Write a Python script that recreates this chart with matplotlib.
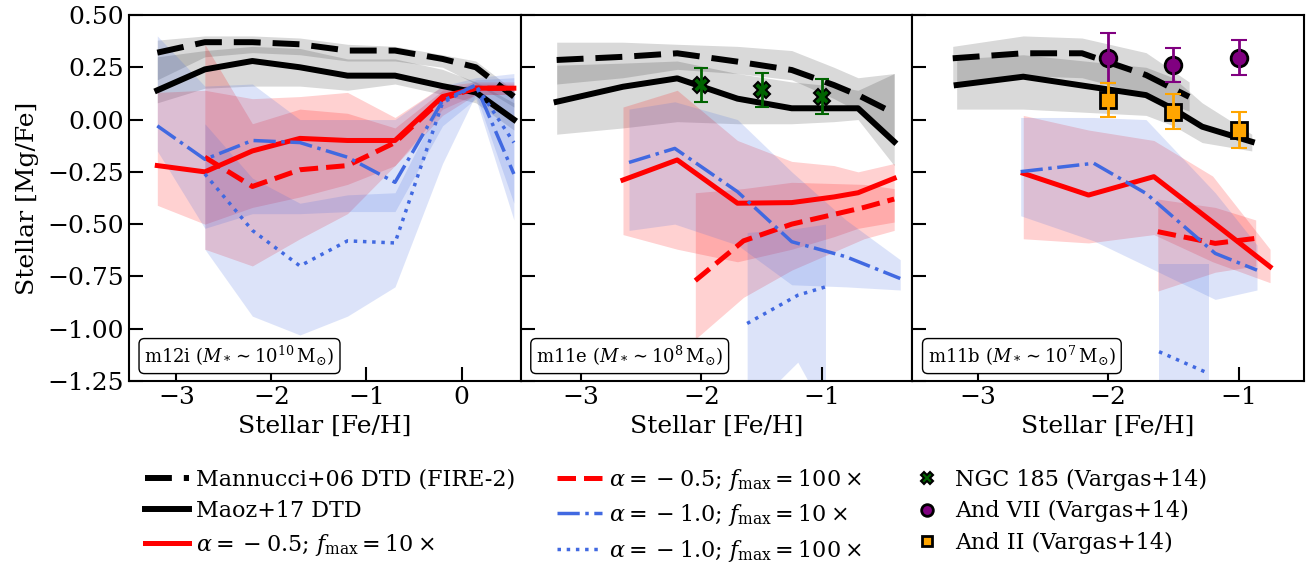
import matplotlib
matplotlib.use('Agg')
import matplotlib.pyplot as plt
import numpy as np

plt.rcParams['font.family'] = 'DejaVu Serif'
plt.rcParams['mathtext.fontset'] = 'dejavuserif'

# ---- m12i ----
x_m12i = [-3.2, -2.7, -2.2, -1.7, -1.2, -0.7, -0.2, 0.15, 0.55]
m12i_man = [0.32, 0.37, 0.37, 0.36, 0.33, 0.33, 0.29, 0.25, 0.11]
m12i_man_hi = [0.38, 0.40, 0.40, 0.39, 0.36, 0.35, 0.31, 0.28, 0.14]
m12i_man_lo = [0.19, 0.30, 0.32, 0.31, 0.28, 0.28, 0.25, 0.17, 0.06]
m12i_maoz = [0.14, 0.24, 0.28, 0.25, 0.21, 0.21, 0.16, 0.13, 0.0]
m12i_maoz_hi = [0.30, 0.33, 0.35, 0.34, 0.29, 0.29, 0.24, 0.18, 0.08]
m12i_maoz_lo = [0.08, 0.15, 0.16, 0.16, 0.14, 0.17, 0.12, 0.08, -0.05]
m12i_a05_10 = [-0.22, -0.25, -0.15, -0.09, -0.10, -0.10, 0.11, 0.15, 0.15]
m12i_a05_10_hi = [0.13, 0.14, 0.10, 0.11, 0.13, 0.01, 0.16, 0.18, 0.18]
m12i_a05_10_lo = [-0.41, -0.50, -0.42, -0.37, -0.31, -0.22, 0.02, 0.12, 0.12]
m12i_a05_100 = [-0.18, -0.32, -0.24, -0.22, -0.11, 0.10, 0.15, 0.15]
m12i_a05_100_hi = [0.36, -0.02, 0.05, 0.03, -0.04, 0.14, 0.17, 0.17]
m12i_a05_100_lo = [-0.62, -0.70, -0.57, -0.45, -0.22, 0.05, 0.12, 0.12]
m12i_a10_10 = [-0.03, -0.19, -0.10, -0.11, -0.18, -0.30, 0.09, 0.165, -0.26]
m12i_a10_10_hi = [0.40, 0.16, 0.17, 0.0, 0.0, 0.0, 0.16, 0.20, 0.22]
m12i_a10_10_lo = [-0.15, -0.52, -0.45, -0.45, -0.44, -0.44, -0.03, 0.10, -0.48]
m12i_a10_100 = [-0.26, -0.53, -0.70, -0.58, -0.59, 0.08, 0.165, -0.11]
m12i_a10_100_hi = [-0.02, -0.28, -0.40, -0.36, -0.35, 0.10, 0.19, 0.20]
m12i_a10_100_lo = [-0.62, -0.94, -1.03, -0.94, -0.80, -0.21, 0.12, -0.40]

# ---- m11e ----
x_m11e = [-3.2, -2.65, -2.2, -1.7, -1.25, -0.9, -0.7, -0.4]
m11e_man = [0.285, 0.30, 0.317, 0.277, 0.237, 0.165, 0.117, 0.03]
m11e_man_hi = [0.37, 0.37, 0.36, 0.35, 0.33, 0.25, 0.20, 0.22]
m11e_man_lo = [0.17, 0.20, 0.24, 0.22, 0.19, 0.10, 0.04, -0.10]
m11e_maoz = [0.085, 0.157, 0.197, 0.10, 0.054, 0.054, 0.054, -0.106]
m11e_maoz_hi = [0.26, 0.27, 0.28, 0.22, 0.18, 0.16, 0.14, 0.22]
m11e_maoz_lo = [-0.07, -0.04, -0.01, -0.02, -0.02, -0.01, 0.0, -0.22]
m11e_a05_10 = [-0.289, -0.193, -0.40, -0.397, -0.37, -0.35, -0.281]
m11e_a05_10_hi = [0.06, 0.14, -0.10, -0.20, -0.22, -0.25, -0.21]
m11e_a05_10_lo = [-0.55, -0.62, -0.68, -0.62, -0.56, -0.52, -0.49]
x_m11e_a05_100 = [-2.05, -1.65, -1.25, -0.65, -0.4]
m11e_a05_100 = [-0.77, -0.58, -0.50, -0.42, -0.38]
m11e_a05_100_hi = [-0.35, -0.33, -0.30, -0.31, -0.33]
m11e_a05_100_lo = [-1.05, -0.85, -0.72, -0.57, -0.53]
x_m11e_a10_10 = [-2.6, -2.22, -1.7, -1.25, -0.8, -0.35]
m11e_a10_10 = [-0.205, -0.138, -0.345, -0.584, -0.656, -0.76]
m11e_a10_10_hi = [0.05, 0.085, 0.0, -0.25, -0.48, -0.67]
m11e_a10_10_lo = [-0.53, -0.50, -0.60, -0.79, -0.80, -0.815]
x_m11e_a10_100 = [-1.62, -1.2, -0.97]
m11e_a10_100 = [-0.975, -0.84, -0.80]
m11e_a10_100_hi = [-0.54, -0.52, -0.50]
m11e_a10_100_lo = [-1.4, -1.16, -1.4]

# ---- m11b ----
x_m11b_man = [-3.19, -2.65, -2.2, -1.71, -1.38]
m11b_man = [0.293, 0.317, 0.317, 0.213, 0.109]
m11b_man_hi = [0.35, 0.40, 0.39, 0.32, 0.18]
m11b_man_lo = [0.17, 0.21, 0.20, 0.12, 0.04]
x_m11b_maoz = [-3.16, -2.65, -1.71, -1.5, -1.28, -0.9]
m11b_maoz = [0.165, 0.205, 0.117, 0.05, -0.034, -0.106]
m11b_maoz_hi = [0.29, 0.31, 0.25, 0.20, 0.08, -0.07]
m11b_maoz_lo = [0.05, 0.05, 0.02, -0.03, -0.11, -0.15]
x_m11b_a05_10 = [-2.65, -2.15, -1.65, -1.2, -0.76]
m11b_a05_10 = [-0.257, -0.361, -0.273, -0.49, -0.704]
m11b_a05_10_hi = [0.02, -0.05, -0.10, -0.27, -0.62]
m11b_a05_10_lo = [-0.57, -0.59, -0.55, -0.68, -0.78]
x_m11b_a05_100 = [-1.62, -1.18, -0.87]
m11b_a05_100 = [-0.536, -0.592, -0.568]
m11b_a05_100_hi = [-0.38, -0.42, -0.48]
m11b_a05_100_lo = [-0.82, -0.73, -0.70]
x_m11b_a10_10 = [-2.67, -2.11, -1.71, -1.18, -0.86]
m11b_a10_10 = [-0.249, -0.209, -0.353, -0.64, -0.72]
m11b_a10_10_hi = [0.01, 0.01, 0.0, -0.35, -0.60]
m11b_a10_10_lo = [-0.46, -0.58, -0.70, -0.86, -0.815]
x_m11b_a10_100 = [-1.61, -1.23]
m11b_a10_100 = [-1.11, -1.214]
m11b_a10_100_hi = [-0.69, -0.69]
m11b_a10_100_lo = [-1.4, -1.4]

# ---- observations (Vargas+14) ----
obs_feh = [-2.0, -1.5, -1.0]
ngc185 = [0.165, 0.141, 0.109]
ngc185_err = [0.08, 0.082, 0.084]
and7 = [0.293, 0.261, 0.296]
and7_err = [0.12, 0.08, 0.085]
and2 = [0.093, 0.038, -0.05]
and2_err = [0.083, 0.085, 0.085]

labels = ['m12i ($M_* \\sim 10^{10}\\,{\\rm M}_{\\odot}$)',
          'm11e ($M_* \\sim 10^{8}\\,{\\rm M}_{\\odot}$)',
          'm11b ($M_* \\sim 10^{7}\\,{\\rm M}_{\\odot}$)']
xlims = [(-3.5, 0.62), (-3.5, -0.25), (-3.5, -0.5)]
xticks = [[-3, -2, -1, 0], [-3, -2, -1], [-3, -2, -1]]
yticks = [-1.25, -1.0, -0.75, -0.5, -0.25, 0.0, 0.25, 0.5]

lab_man = 'Mannucci+06 DTD (FIRE-2)'
lab_maoz = 'Maoz+17 DTD'
lab_a05_10 = r'$\alpha = \:-\: 0.5$; $f_{\rm max} = 10\:\times$'
lab_a05_100 = r'$\alpha = \:-\: 0.5$; $f_{\rm max} = 100\:\times$'
lab_a10_10 = r'$\alpha = \:-\: 1.0$; $f_{\rm max} = 10\:\times$'
lab_a10_100 = r'$\alpha = \:-\: 1.0$; $f_{\rm max} = 100\:\times$'

fig, axes = plt.subplots(1, 3, figsize=(13.14, 5.64), dpi=100, sharey=True)
fig.subplots_adjust(left=0.098, right=0.9924, top=0.9734, bottom=0.3245, wspace=0)

blue = 'royalblue'
fa = 0.18


def band(ax, x, lo, hi, c, a):
    ax.fill_between(x, lo, hi, color=c, alpha=a, lw=0, zorder=1)


def curves(ax, d):
    # d: lista de (x, y, lo, hi, cor, estilo, lw, label)
    for x, y, lo, hi, c, ls, lw, lab in d:
        if c == 'k':
            band(ax, x, lo, hi, 'k', 0.15)
        else:
            band(ax, x, lo, hi, c, fa)
    for x, y, lo, hi, c, ls, lw, lab in d:
        l, = ax.plot(x, y, color=c, ls=ls, lw=lw, label=lab, zorder=3)
        if c == 'k' and ls == '--':
            l.set_dashes((4.5, 2.0))


x0 = x_m12i
curves(axes[0], [
    (x0, m12i_man, m12i_man_lo, m12i_man_hi, 'k', '--', 4.3, lab_man),
    (x0, m12i_maoz, m12i_maoz_lo, m12i_maoz_hi, 'k', '-', 4.3, lab_maoz),
    (x0, m12i_a05_10, m12i_a05_10_lo, m12i_a05_10_hi, 'red', '-', 3.6, lab_a05_10),
    (x0[1:], m12i_a05_100, m12i_a05_100_lo, m12i_a05_100_hi, 'red', '--', 3.6, lab_a05_100),
    (x0, m12i_a10_10, m12i_a10_10_lo, m12i_a10_10_hi, blue, '-.', 2.5, lab_a10_10),
    (x0[1:], m12i_a10_100, m12i_a10_100_lo, m12i_a10_100_hi, blue, ':', 2.5, lab_a10_100),
])

x1 = x_m11e
curves(axes[1], [
    (x1, m11e_man, m11e_man_lo, m11e_man_hi, 'k', '--', 4.3, lab_man),
    (x1, m11e_maoz, m11e_maoz_lo, m11e_maoz_hi, 'k', '-', 4.3, lab_maoz),
    (x1[1:], m11e_a05_10, m11e_a05_10_lo, m11e_a05_10_hi, 'red', '-', 3.6, lab_a05_10),
    (x_m11e_a05_100, m11e_a05_100, m11e_a05_100_lo, m11e_a05_100_hi, 'red', '--', 3.6, lab_a05_100),
    (x_m11e_a10_10, m11e_a10_10, m11e_a10_10_lo, m11e_a10_10_hi, blue, '-.', 2.5, lab_a10_10),
    (x_m11e_a10_100, m11e_a10_100, m11e_a10_100_lo, m11e_a10_100_hi, blue, ':', 2.5, lab_a10_100),
])

curves(axes[2], [
    (x_m11b_man, m11b_man, m11b_man_lo, m11b_man_hi, 'k', '--', 4.3, lab_man),
    (x_m11b_maoz, m11b_maoz, m11b_maoz_lo, m11b_maoz_hi, 'k', '-', 4.3, lab_maoz),
    (x_m11b_a05_10, m11b_a05_10, m11b_a05_10_lo, m11b_a05_10_hi, 'red', '-', 3.6, lab_a05_10),
    (x_m11b_a05_100, m11b_a05_100, m11b_a05_100_lo, m11b_a05_100_hi, 'red', '--', 3.6, lab_a05_100),
    (x_m11b_a10_10, m11b_a10_10, m11b_a10_10_lo, m11b_a10_10_hi, blue, '-.', 2.5, lab_a10_10),
    (x_m11b_a10_100, m11b_a10_100, m11b_a10_100_lo, m11b_a10_100_hi, blue, ':', 2.5, lab_a10_100),
])

# Observações
ax = axes[1]
ax.plot(obs_feh, ngc185, 'X', ms=12, mfc='darkgreen', mec='k', mew=1.5, ls='none',
        zorder=5, label='NGC 185 (Vargas+14)')
ax.errorbar(obs_feh, ngc185, yerr=ngc185_err, fmt='none', ecolor='darkgreen',
            elinewidth=2, capsize=5, capthick=1.5, zorder=6)
ax = axes[2]
ax.plot(obs_feh, and7, 'o', ms=12, mfc='purple', mec='k', mew=2, ls='none',
        zorder=5, label='And VII (Vargas+14)')
ax.errorbar(obs_feh, and7, yerr=and7_err, fmt='none', ecolor='purple',
            elinewidth=2, capsize=6, capthick=1.5, zorder=6)
ax.plot(obs_feh, and2, 's', ms=11, mfc='orange', mec='k', mew=2, ls='none',
        zorder=5, label='And II (Vargas+14)')
ax.errorbar(obs_feh, and2, yerr=and2_err, fmt='none', ecolor='orange',
            elinewidth=2, capsize=6, capthick=1.5, zorder=6)

for i, ax in enumerate(axes):
    ax.set_xlim(xlims[i])
    ax.set_ylim(-1.25, 0.5)
    ax.set_xticks(xticks[i])
    ax.set_yticks(yticks)
    ax.tick_params(direction='in', length=10, width=1.5, labelsize=18)
    for s in ax.spines.values():
        s.set_linewidth(1.5)
    ax.set_xlabel('Stellar [Fe/H]', fontsize=18)
    ax.text(0.04, 0.035, labels[i], transform=ax.transAxes, fontsize=13,
            ha='left', va='bottom', zorder=10,
            bbox=dict(boxstyle='round,pad=0.3', fc='white', ec='k', lw=1))
axes[0].set_ylabel('Stellar [Mg/Fe]', fontsize=18, labelpad=6)
for ax in axes[1:]:
    ax.tick_params(labelleft=False)

# Legenda
h, l = [], []
for ax in axes:
    hh, ll = ax.get_legend_handles_labels()
    for a, b in zip(hh, ll):
        if b not in l:
            h.append(a)
            l.append(b)
fig.legend(h, l, ncol=3, loc='upper left', bbox_to_anchor=(0.1035, 0.188),
           frameon=False, fontsize=16, labelspacing=0.42, handlelength=2.0,
           handletextpad=0.3, columnspacing=1.9, markerscale=0.7, borderaxespad=0)

fig.savefig('out.png', dpi=100)
